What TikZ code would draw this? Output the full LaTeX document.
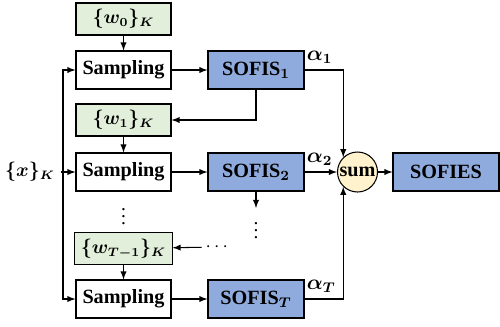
\documentclass[tikz,border=0pt]{standalone}
\usepackage{amsmath}
\usepackage{bm}
\usepackage{fontspec}
\setmainfont{Liberation Serif}
\usepackage{tikz}
\definecolor{wgreen}{HTML}{E2EFDA}
\definecolor{fisblue}{HTML}{8FAADC}
\definecolor{sumyellow}{HTML}{FFF2CC}
\newcommand{\boxfont}{\fontsize{11.5}{13}\selectfont\bfseries}
\tikzstyle{weight}=[draw, fill=wgreen, minimum width=1.9cm, minimum height=0.64cm, font=\fontsize{10.5}{12}\selectfont]
\tikzstyle{sampler}=[draw, fill=white, minimum width=1.9cm, minimum height=0.76cm, font=\boxfont]
\tikzstyle{fis}=[draw, fill=fisblue, minimum width=1.92cm, minimum height=0.76cm, font=\boxfont]
\tikzstyle{summer}=[circle, draw, fill=sumyellow, minimum size=0.8cm, inner sep=0pt, font=\boxfont]
\tikzstyle{dots}=[inner sep=0pt, font=\fontsize{11}{13}\selectfont]
\tikzstyle{weightlabel}=[pos=0, anchor=south west, inner xsep=1pt, font=\fontsize{12}{14}\selectfont]
\tikzstyle{link}=[-latex, line width=0.6pt]

\begin{document}
\begin{tikzpicture}[line width=0.6pt, font=\fontsize{10.5}{12}\selectfont]
		   \useasboundingbox (0,0) rectangle (10,-6.52);
		   \begin{scope}
			   \node (w0) at (2.47, -0.38)[weight] {$\bm{\{w_0\}_K}$};
			   \node (s1) at (2.47, -1.40)[sampler] {Sampling};
			   \node (f1) at (5.12, -1.40)[fis] {SOFIS$_{\bm{1}}$};
			   \node (w1) at (2.47, -2.40)[weight] {$\bm{\{w_1\}_K}$};
			   \node (s2) at (2.47, -3.44)[sampler] {Sampling};
			   \node (f2) at (5.12, -3.44)[fis] {SOFIS$_{\bm{2}}$};
			   \node (vd1) at (2.47, -4.22)[dots] {$\vdots$};
			   \node (vd2) at (5.12, -4.50)[dots] {$\vdots$};
			   \node (wT) at (2.47, -4.97)[weight] {$\bm{\{w_{T-1}\}_K}$};
			   \node (hd) at (4.37, -4.94)[dots, inner xsep=2pt] {$\cdots$};
			   \node (sT) at (2.47, -5.98)[sampler] {Sampling};
			   \node (fT) at (5.12, -5.98)[fis] {SOFIS$_{\bm{T}}$};
			   \node (x) at (0.6, -3.44) {$\bm{\{x\}_K}$};
			   \node (sum) at (7.15, -3.44)[summer] {sum};
			   \node (out) at (8.92, -3.44)[fis, minimum width=2.12cm] {SOFIES};
			   \coordinate (j) at (1.26, -3.44);
			   \coordinate (d2) at (5.12, -4.16);
		   \end{scope}
		   \begin{scope}
			   \path [link] (w0) edge (s1);
			   \path [link] (w1) edge (s2);
			   \path [link] (wT) edge (sT);
			   \path [link] (x) edge (s2);
			   \draw [link] (j) |- (s1);
			   \draw [link] (j) |- (sT);
			   \path [link] (s1) edge (f1);
			   \path [link] (s2) edge (f2);
			   \path [link] (sT) edge (fT);
			   \draw [link] (f1.south) |- (w1.east);
			   \path [link] (f2.south) edge (d2);
			   \path [link] (hd) edge (wT);
			   \draw [link] (f1.east) -| node[weightlabel] {$\bm{\alpha_1}$} (sum.134);
			   \path [link] (f2) edge node[weightlabel] {$\bm{\alpha_2}$} (sum);
			   \draw [link] (fT.east) -| node[weightlabel] {$\bm{\alpha_T}$} (sum.226);
			   \path [link] (sum) edge (out);
		   \end{scope}
	   \end{tikzpicture}
\end{document}
